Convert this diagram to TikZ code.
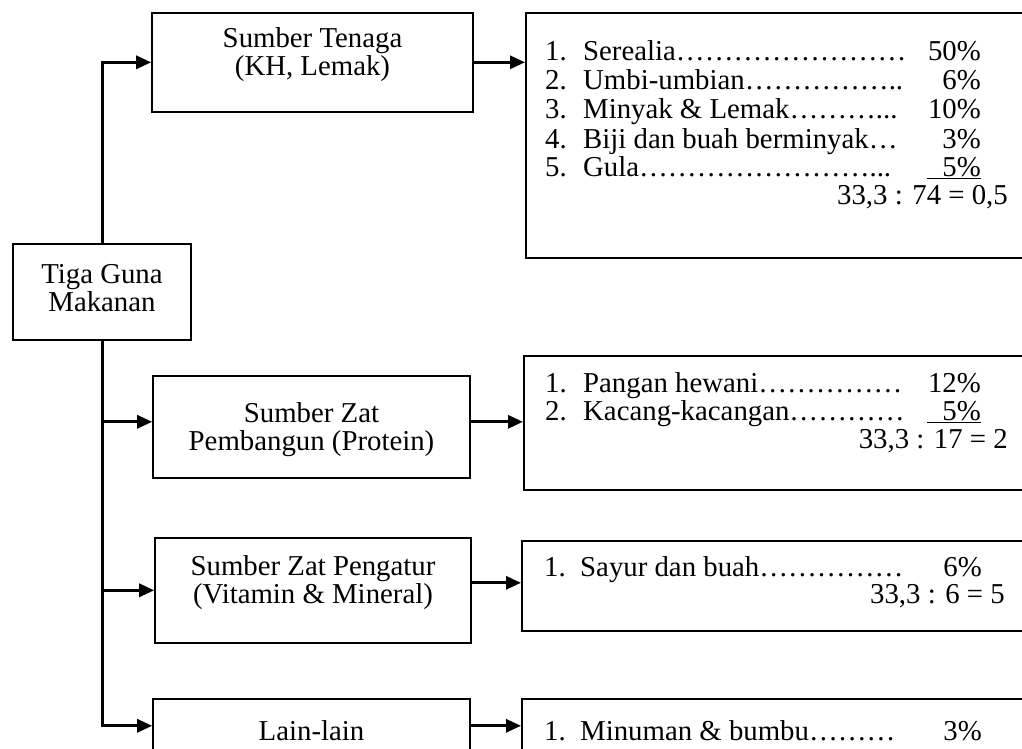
\documentclass[tikz,border=0pt]{standalone}
\usepackage{fontspec}
\setmainfont{Liberation Serif}
\usetikzlibrary{arrows.meta}
\newcommand{\titik}[1]{\foreach \k in {1,...,#1}{…}}
\begin{document}
\begin{tikzpicture}[x=1pt,y=-1pt,
    font=\fontsize{28.8}{28.7}\selectfont,
    kotak/.style={draw,line width=1.6pt,align=center,anchor=north,inner sep=0pt},
    rinci/.style={draw,line width=1.6pt,anchor=north west,inner sep=0pt,minimum width=520},
    baris/.style={anchor=base west,inner sep=0pt},
    nilai/.style={anchor=base east,inner sep=0pt},
    panah/.style={line width=3pt,-{Triangle[length=15pt,width=13pt]}}]
            \useasboundingbox (0,0) rectangle (1022,749);
            \clip (0,0) rectangle (1022,749);
            % kotak kiri
            \node [kotak,minimum width=178,text height=68,text depth=28] (tiga) at(102,243) {Tiga Guna\\Makanan};
            \node [kotak,minimum width=321,text height=63,text depth=36] (tenaga) at(312.5,12) {Sumber Tenaga\\(KH, Lemak)};
            \node [kotak,minimum width=317,text height=75,text depth=27] (pembangun) at(311.5,375) {Sumber Zat\\Pembangun (Protein)};
            \node [kotak,minimum width=316,text height=66,text depth=39] (pengatur) at(313,537) {Sumber Zat Pengatur\\(Vitamin \& Mineral)};
            \node [kotak,minimum width=317,text height=42,text depth=12] (lain) at(311.5,698) {Lain-lain};
            % kotak rincian
            \node [rinci,minimum height=245] (rinci1) at(525,12) {};
            \node [rinci,minimum height=134] (rinci2) at(523,355) {};
            \node [rinci,minimum height=90] (rinci3) at(521,540) {};
            \node [rinci,minimum height=54] (rinci4) at(521,698) {};
            % panah
            \draw [panah] (tiga.north) |- (tenaga.west);
            \draw [panah] (tiga.south) |- ([yshift=5pt]pembangun.west);
            \draw [panah] (tiga.south) |- (pengatur.west);
            \draw [panah] (tiga.south) |- (lain.west);
            \draw [panah] (tenaga.east) -- (tenaga.east -| rinci1.west);
            \draw [panah] ([yshift=5pt]pembangun.east) -- ([yshift=5pt]pembangun.east -| rinci2.west);
            \draw [panah] ([yshift=7.5pt]pengatur.east) -- ([yshift=7.5pt]pengatur.east -| rinci3.west);
            \draw [panah] (lain.east) -- (lain.east -| rinci4.west);
            % isi rincian 1
            \node [baris] (a1) at(545,61) {\makebox[38pt][l]{1.}Serealia\titik{8}};
            \node [nilai] (b1) at(981,61) {50\%};
            \node [baris] (a2) at(545,90) {\makebox[38pt][l]{2.}Umbi-umbian\titik{5}..};
            \node [nilai] (b2) at(981,90) {6\%};
            \node [baris] (a3) at(545,119) {\makebox[38pt][l]{3.}Minyak \& Lemak\titik{3}...};
            \node [nilai] (b3) at(981,119) {10\%};
            \node [baris] (a4) at(545,148) {\makebox[38pt][l]{4.}Biji dan buah berminyak\titik{1}};
            \node [nilai] (b4) at(981,148) {3\%};
            \node [baris] (a5) at(545,176) {\makebox[38pt][l]{5.}Gula\titik{8}...};
            \node [nilai] (b5) at(981,176) {\underline{\hspace{15.6pt}5\%}};
            \node [nilai] (c1) at(1008,204) {33,3 : 74 = 0,5};
            % isi rincian 2
            \node [baris] (a6) at(545,392) {\makebox[38pt][l]{1.}Pangan hewani\titik{5}};
            \node [nilai] (b6) at(981,392) {12\%};
            \node [baris] (a7) at(545,420) {\makebox[38pt][l]{2.}Kacang-kacangan\titik{4}};
            \node [nilai] (b7) at(981,420) {\underline{\hspace{15.6pt}5\%}};
            \node [nilai] (c2) at(1008,448) {33,3 : 17 = 2};
            % isi rincian 3
            \node [baris] (a8) at(544,576) {\makebox[36pt][l]{1.}Sayur dan buah\titik{5}};
            \node [nilai] (b8) at(982,576) {6\%};
            \node [nilai] (c3) at(1005,603) {33,3 : 6 = 5};
            % isi rincian 4
            \node [baris] (a9) at(544,740) {\makebox[36pt][l]{1.}Minuman \& bumbu\titik{3}};
            \node [nilai] (b9) at(982,740) {3\%};
        \end{tikzpicture}
\end{document}
